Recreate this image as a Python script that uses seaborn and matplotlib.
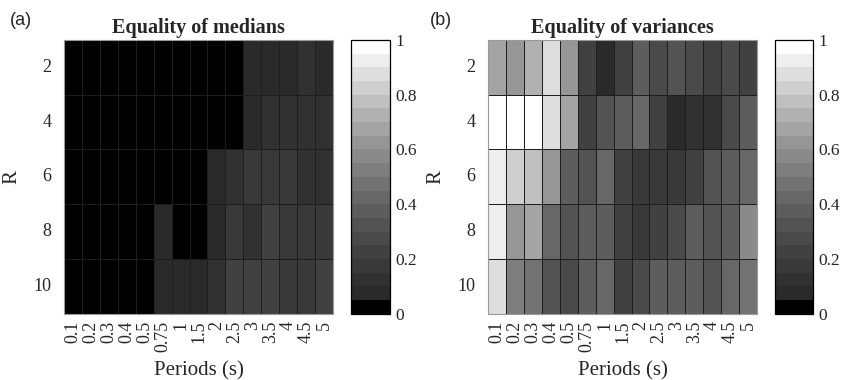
import matplotlib.pyplot as plt
import numpy as np
import pandas as pd
import seaborn as sns
from matplotlib.colors import ListedColormap

# ------------------------------------------------
# Data (p-values per period / R)
# ------------------------------------------------
periods = ["0.1", "0.2", "0.3", "0.4", "0.5", "0.75", "1", "1.5",
           "2", "2.5", "3", "3.5", "4", "4.5", "5"]
r_values = ["2", "4", "6", "8", "10"]

medians_r2 = [0, 0, 0, 0, 0, 0, 0, 0, 0, 0, 0.07, 0.07, 0.07, 0.12, 0.08]
medians_r4 = [0, 0, 0, 0, 0, 0, 0, 0, 0, 0, 0.07, 0.12, 0.12, 0.12, 0.13]
medians_r6 = [0, 0, 0, 0, 0, 0, 0, 0, 0.08, 0.12, 0.16, 0.17, 0.17, 0.12, 0.12]
medians_r8 = [0, 0, 0, 0, 0, 0.08, 0, 0, 0.07, 0.16, 0.14, 0.22, 0.16, 0.16, 0.17]
medians_r10 = [0, 0, 0, 0, 0, 0.08, 0.08, 0.08, 0.12, 0.22, 0.21, 0.21, 0.17, 0.16, 0.22]

variances_r2 = [0.67, 0.62, 0.72, 0.87, 0.62, 0.22, 0.07, 0.22, 0.37, 0.27,
                0.32, 0.27, 0.22, 0.27, 0.22]
variances_r4 = [0.97, 0.97, 0.97, 0.87, 0.67, 0.22, 0.32, 0.37, 0.42, 0.22,
                0.07, 0.12, 0.12, 0.27, 0.37]
variances_r6 = [0.92, 0.82, 0.77, 0.62, 0.37, 0.32, 0.42, 0.22, 0.17, 0.17,
                0.17, 0.22, 0.32, 0.37, 0.42]
variances_r8 = [0.92, 0.62, 0.66, 0.42, 0.32, 0.37, 0.37, 0.22, 0.17, 0.22,
                0.27, 0.37, 0.32, 0.37, 0.57]
variances_r10 = [0.87, 0.52, 0.47, 0.32, 0.27, 0.37, 0.42, 0.22, 0.27, 0.37,
                 0.37, 0.37, 0.32, 0.42, 0.47]

df_med = pd.DataFrame([medians_r2, medians_r4, medians_r6, medians_r8, medians_r10],
                      index=r_values, columns=periods)
df_var = pd.DataFrame([variances_r2, variances_r4, variances_r6, variances_r8, variances_r10],
                      index=r_values, columns=periods)

# ------------------------------------------------
# 20-level gray colormap (black lowest band, then dark gray -> white)
# ------------------------------------------------
k = np.arange(1, 20)
levels = np.clip(0.1397 + 0.0242 * k + 0.00111 * k ** 2, 0, 1)
grays = [(0, 0, 0)] + [(g, g, g) for g in levels]
cmap = ListedColormap(grays)

sns.set_style("white")
plt.rcParams["font.family"] = ["Liberation Serif", "DejaVu Serif"]

fig = plt.figure(figsize=(8.42, 3.8), dpi=100)

panels = [
    (df_med, "Equality of medians", "(a)",
     [0.076, 0.174, 0.3195, 0.721], [0.4169, 0.174, 0.0463, 0.721], 0.012),
    (df_var, "Equality of variances", "(b)",
     [0.5796, 0.174, 0.3195, 0.721], [0.9204, 0.174, 0.0451, 0.721], 0.511),
]

for data, title, tag, ax_pos, cb_pos, tag_x in panels:
    ax = fig.add_axes(ax_pos)
    cax = fig.add_axes(cb_pos)
    sns.heatmap(
        data,
        ax=ax,
        cbar_ax=cax,
        cmap=cmap,
        vmin=0,
        vmax=1,
        linewidths=0.5,
        linecolor="#1e1e1e",
        xticklabels=periods,
        yticklabels=r_values,
    )
    ax.set_title(title, fontsize=14.5, fontweight="bold", pad=5)
    ax.set_xlabel("Periods (s)", fontsize=15, labelpad=7)
    ax.set_ylabel("R", fontsize=15, labelpad=9)
    ax.tick_params(axis="both", length=0, labelsize=13)
    ax.tick_params(axis="x", pad=5, rotation=90)
    ax.tick_params(axis="y", pad=9, rotation=0)
    for spine in ax.spines.values():
        spine.set_visible(True)
        spine.set_color("#999999")
        spine.set_linewidth(0.8)

    cbar = ax.collections[0].colorbar
    cbar.set_ticks([0, 0.2, 0.4, 0.6, 0.8, 1])
    cbar.set_ticklabels(["0", "0.2", "0.4", "0.6", "0.8", "1"])
    cbar.outline.set_linewidth(0.9)
    cbar.outline.set_edgecolor("black")
    cax.tick_params(direction="in", length=4, width=0.8, labelsize=12.5, pad=4)

    fig.text(tag_x, 0.935, tag, fontsize=13, family=["Liberation Sans", "DejaVu Sans"])

fig.savefig("out.png", dpi=100)
